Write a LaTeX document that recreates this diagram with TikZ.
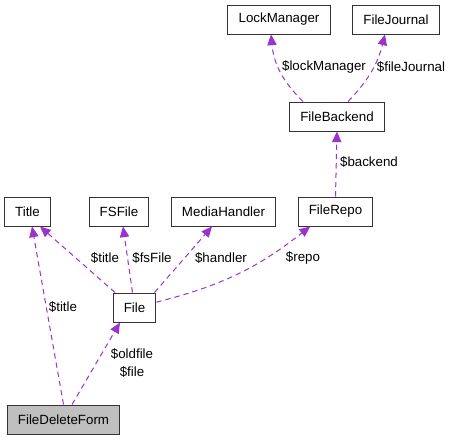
\documentclass[tikz,border=0pt]{standalone}
\usepackage{fontspec}
\setmainfont{Liberation Sans}
\usetikzlibrary{arrows.meta}
\definecolor{edgepurple}{HTML}{9A32CD}
\definecolor{formgray}{HTML}{BFBFBF}

\begin{document}
\begin{tikzpicture}[x=0.75pt,y=-0.75pt,
	  class node/.style={rectangle,draw=black!80,line width=0.75pt,inner xsep=8pt,
	    minimum height=21.75pt,font=\fontsize{10}{12}\selectfont},
	  edge label/.style={font=\fontsize{10}{13.5}\selectfont,inner sep=0pt,align=center},
	  uses/.style={-{Triangle[length=8pt,width=7pt,fill=edgepurple]},draw=edgepurple,
	    line width=0.75pt,dash pattern=on 4pt off 3pt}]
	  \useasboundingbox (0,0) rectangle (451,440);

	  % classes
	  \node[class node] (lockmgr) at (279,19.5) {LockManager};
	  \node[class node] (journal) at (396,19.5) {FileJournal};
	  \node[class node] (backend) at (337,116.5) {FileBackend};
	  \node[class node] (title) at (27.5,211.5) {Title};
	  \node[class node] (fsfile) at (119,211.5) {FSFile};
	  \node[class node] (handler) at (223.5,211.5) {MediaHandler};
	  \node[class node] (repo) at (335.5,211.5) {FileRepo};
	  \node[class node] (file) at (134.5,307.5) {File};
	  \node[class node,fill=formgray] (form) at (63.5,419.5) {FileDeleteForm};

	  % member labels
	  \node[edge label] (lLock) at (324,67) {\$lockManager};
	  \node[edge label] (lJournal) at (411,67) {\$fileJournal};
	  \node[edge label] (lBackend) at (369,162) {\$backend};
	  \node[edge label] (lTitleA) at (105,258) {\$title};
	  \node[edge label] (lFsFile) at (152,258) {\$fsFile};
	  \node[edge label] (lHandler) at (221,258) {\$handler};
	  \node[edge label] (lRepo) at (303,258) {\$repo};
	  \node[edge label] (lTitleB) at (63,307) {\$title};
	  \node[edge label] (lFile) at (132,363) {\$oldfile\\\$file};

	  \path[every edge/.style={uses}]
	    (form.north) edge ([xshift=3.4pt]title.south)
	    ([xshift=6.4pt]form.north) edge ([xshift=-10.9pt]file.south)
	    ([xshift=-14.6pt]file.north) edge ([xshift=9.4pt]title.south)
	    ([xshift=-1.5pt]file.north) edge ([xshift=3pt]fsfile.south)
	    ([xshift=15pt]file.north) edge ([xshift=-8.6pt]handler.south)
	    ([yshift=4pt]file.east) edge[bend right=12] ([xshift=-19pt]repo.south)
	    (repo.north) edge (backend.south)
	    ([xshift=-25.5pt]backend.north) edge[bend left=20] ([xshift=-6pt]lockmgr.south)
	    ([xshift=8.3pt]backend.north) edge[bend right=15] ([xshift=-8.3pt]journal.south);
	\end{tikzpicture}
\end{document}
